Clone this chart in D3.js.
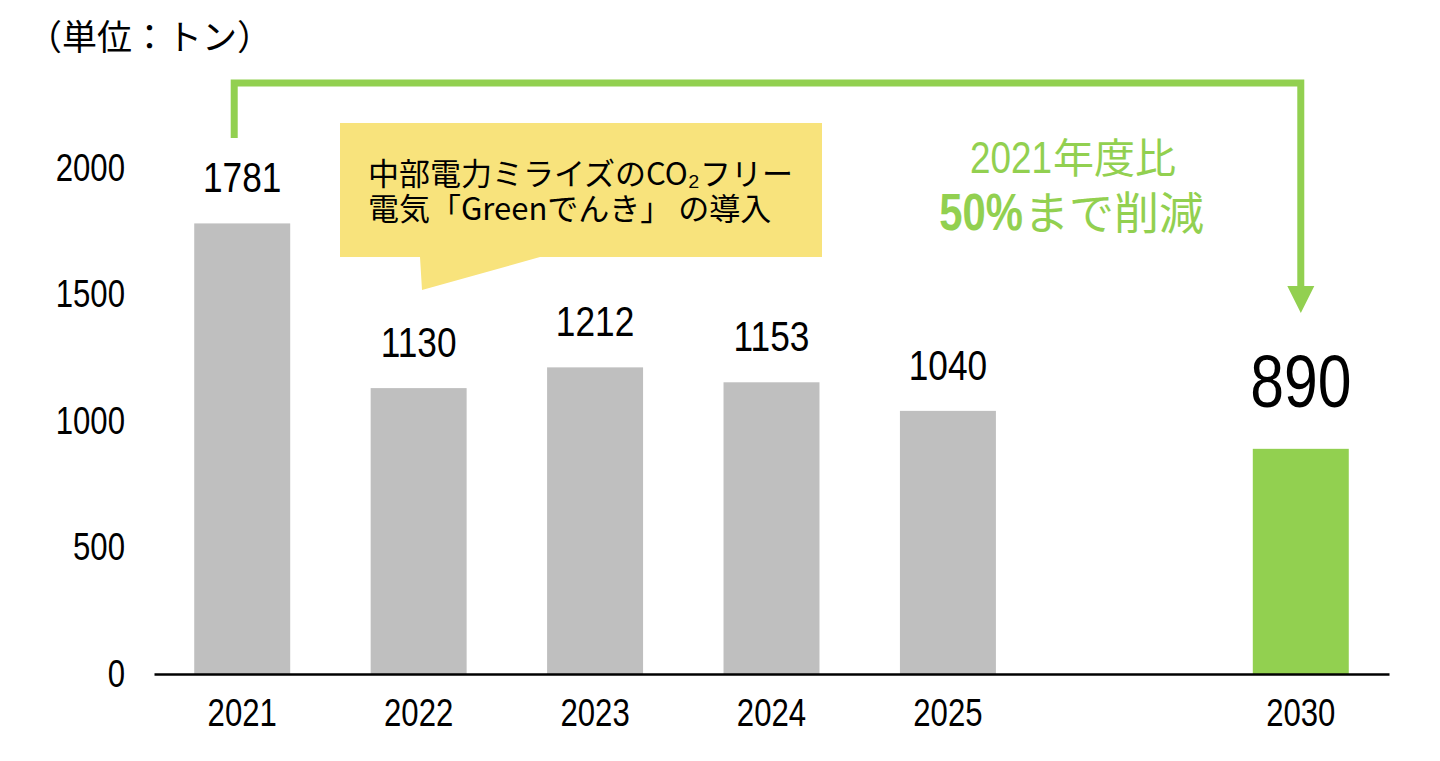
<!DOCTYPE html>
<html>
<head>
<meta charset="utf-8">
<script src="https://cdn.jsdelivr.net/npm/d3@7"></script>
<style>
  body { margin: 0; background: #fff; }
  svg { display: block; }
  .num { font-family: "Liberation Sans", Arial, sans-serif; }
  .jp { font-family: "Noto Sans CJK JP", sans-serif; }
</style>
</head>
<body>
<svg id="chart" width="1440" height="761"></svg>
<script>
// categories (blank slot keeps the gap between 2025 and 2030)
const categories = ["2021", "2022", "2023", "2024", "2025", "", "2030"];
const values = [1781, 1130, 1212, 1153, 1040, null, 890];
const targetYear = "2030";
const yTicks = [0, 500, 1000, 1500, 2000];

const unitLabel = "（単位：トン）";
const calloutLines = ["中部電力ミライズのCO₂フリー", "電気「Greenでんき」 の導入"];

const gray = "#bfbfbf";
const green = "#92d050";
// narrow look for the digits
const narrow = "scale(0.82,1)";

const svg = d3.select("#chart");

const x = d3.scaleBand()
    .domain(categories)
    .range([154, 1389])
    .paddingInner(0.456)
    .paddingOuter(0.228);

const y = d3.scaleLinear()
    .domain([0, 2000])
    .range([674, 168]);

const data = categories.map((c, i) => ({ year: c, value: values[i] }))
    .filter(d => d.value != null);

// bars
svg.append("g").selectAll("rect")
    .data(data)
    .join("rect")
    .attr("x", d => x(d.year))
    .attr("y", d => y(d.value))
    .attr("width", x.bandwidth())
    .attr("height", d => y(0) - y(d.value))
    .attr("fill", d => d.year === targetYear ? green : gray);

// x axis (baseline + year labels)
const xAxis = svg.append("g")
    .attr("transform", `translate(0,${y(0)})`)
    .call(d3.axisBottom(x).tickSize(0).tickSizeOuter(0).tickPadding(25));
xAxis.select(".domain").attr("stroke", "#000").attr("stroke-width", 2.6);
xAxis.selectAll("text")
    .attr("class", "num")
    .attr("font-size", 38)
    .attr("fill", "#000")
    .attr("transform", narrow);

// y axis labels only
const yAxis = svg.append("g")
    .attr("transform", "translate(125,0)")
    .call(d3.axisLeft(y).tickValues(yTicks).tickFormat(d3.format("d")).tickSize(0).tickPadding(0));
yAxis.select(".domain").remove();
yAxis.selectAll("text")
    .attr("class", "num")
    .attr("font-size", 38)
    .attr("fill", "#000")
    .attr("transform", narrow);

// value labels
svg.append("g").selectAll("g")
    .data(data)
    .join("g")
    .attr("transform", d => `translate(${x(d.year) + x.bandwidth() / 2},${y(d.value) - (d.year === targetYear ? 42 : 31)})`)
    .append("text")
    .attr("class", "num")
    .attr("transform", narrow)
    .attr("text-anchor", "middle")
    .attr("font-size", d => d.year === targetYear ? 74 : 43)
    .attr("fill", "#000")
    .text(d => d.value);

// unit label
svg.append("text")
    .attr("class", "jp")
    .attr("x", 27)
    .attr("y", 50)
    .attr("font-size", 35)
    .text(unitLabel);

// green bracket arrow from 2021 to 2030
const x0 = x(categories[0]) + x.bandwidth() / 2 - 8;
const x1 = x(targetYear) + x.bandwidth() / 2;
svg.append("path")
    .attr("d", `M${x0},138 V83 H${x1} V290`)
    .attr("fill", "none")
    .attr("stroke", green)
    .attr("stroke-width", 7);
svg.append("path")
    .attr("d", `M${x1 - 13.5},286 H${x1 + 13.5} L${x1},313 Z`)
    .attr("fill", green);

// reduction text
const gText = svg.append("g").attr("fill", green);
gText.append("g").attr("transform", "translate(1052,173)")
    .append("text").attr("class", "num").attr("transform", narrow)
    .attr("text-anchor", "end").attr("font-size", 45).text("2021");
gText.append("text").attr("class", "jp").attr("x", 1053).attr("y", 173)
    .attr("font-size", 41).text("年度比");
gText.append("g").attr("transform", "translate(1023,230)")
    .append("text").attr("class", "num").attr("transform", narrow)
    .attr("text-anchor", "end").attr("font-size", 51).attr("font-weight", "bold").text("50%");
gText.append("text").attr("class", "jp").attr("x", 1024).attr("y", 230)
    .attr("font-size", 45).text("まで削減");

// callout box
svg.append("path")
    .attr("d", "M340,123 H822 V257 H540 L422,290 L420,257 H340 Z")
    .attr("fill", "#f8e37c");
svg.append("g").attr("class", "jp").attr("font-size", 31)
    .selectAll("text")
    .data(calloutLines)
    .join("text")
    .attr("x", 368)
    .attr("y", (d, i) => 185 + i * 35)
    .text(d => d);
</script>
</body>
</html>
